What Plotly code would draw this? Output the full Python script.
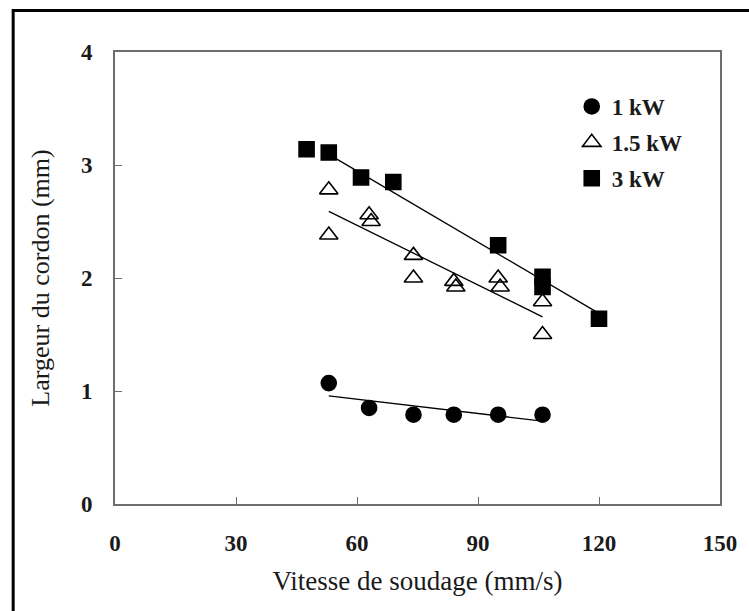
import numpy as np
import plotly.graph_objects as go

# Bead width versus welding speed for three laser powers
series_names = ["1 kW", "1.5 kW", "3 kW"]

speed_1kw = [53, 63, 74, 84, 95, 106]
width_1kw = [1.07, 0.85, 0.79, 0.79, 0.79, 0.79]

speed_15kw = [53, 53, 63, 63.5, 74, 74, 84, 84.5, 95, 95.5, 106, 106]
width_15kw = [2.78, 2.38, 2.56, 2.50, 2.20, 2.00, 1.97, 1.92, 2.00, 1.92, 1.79, 1.50]

speed_3kw = [47.5, 53, 61, 69, 95, 106, 106, 120]
width_3kw = [3.14, 3.11, 2.89, 2.85, 2.29, 2.01, 1.92, 1.64]

# speed span covered by each fitted line
fit_span = [(53, 106), (53, 106), (53, 120)]

x_ticks = [0, 30, 60, 90, 120, 150]
y_ticks = [0, 1, 2, 3, 4]

speeds = [speed_1kw, speed_15kw, speed_3kw]
widths = [width_1kw, width_15kw, width_3kw]
symbols = ["circle", "triangle-up-open", "square"]
sizes = [15, 16, 15]

SERIF = "Liberation Serif, Times New Roman, serif"
AXIS_GREY = "#6e6e6e"

fig = go.Figure()

for i, name in enumerate(series_names):
    xs = np.asarray(speeds[i], dtype=float)
    ys = np.asarray(widths[i], dtype=float)
    fig.add_trace(go.Scatter(
        x=xs, y=ys, mode="markers", name=name,
        legendgroup=name,
        marker=dict(symbol=symbols[i], size=sizes[i], color="black",
                    line=dict(color="black", width=1.6)),
    ))
    # least-squares trend line
    slope, intercept = np.polyfit(xs, ys, 1)
    lx = np.array(fit_span[i], dtype=float)
    fig.add_trace(go.Scatter(
        x=lx, y=slope * lx + intercept, mode="lines",
        line=dict(color="black", width=1.3),
        showlegend=False, hoverinfo="skip",
    ))

W, H = 749, 611
L, R, T, B = 114.5, 28.5, 52, 107
pw, ph = W - L - R, H - T - B


def px_to_paper(px, py):
    return (px - L) / pw, (H - B - py) / ph


# outer frame around the figure (runs past the right and bottom edges)
x0, y1 = px_to_paper(12.5, 10.5)
x1, y0 = px_to_paper(W + 20, H + 20)
fig.add_shape(type="rect", xref="paper", yref="paper",
              x0=x0, x1=x1, y0=y0, y1=y1,
              line=dict(color="black", width=3), layer="above")

lx0, ly0 = px_to_paper(572, 85)

fig.update_layout(
    width=W, height=H,
    margin=dict(l=L, r=R, t=T, b=B, pad=0),
    paper_bgcolor="white", plot_bgcolor="white",
    font=dict(family=SERIF, color="#1a1a1a"),
    showlegend=True,
    legend=dict(
        x=lx0, y=ly0, xanchor="left", yanchor="top",
        font=dict(family=SERIF, size=23, color="#1a1a1a", weight="bold"),
        bgcolor="rgba(0,0,0,0)", borderwidth=0,
        traceorder="grouped", tracegroupgap=3,
        itemwidth=30,
    ),
    xaxis=dict(
        range=[0, 150], tickvals=x_ticks, ticktext=[str(v) for v in x_ticks],
        showgrid=False, zeroline=False,
        showline=True, linecolor=AXIS_GREY, linewidth=2, mirror=True,
        ticks="inside", ticklen=7, tickcolor=AXIS_GREY, tickwidth=1,
        tickfont=dict(family=SERIF, size=23, color="#1a1a1a", weight="bold"),
        ticklabelstandoff=17,
        title=dict(text="Vitesse de soudage (mm/s)",
                   font=dict(family=SERIF, size=27, color="#1a1a1a"),
                   standoff=17),
    ),
    yaxis=dict(
        range=[0, 4], tickvals=y_ticks, ticktext=[str(v) for v in y_ticks],
        showgrid=False, zeroline=False,
        showline=True, linecolor=AXIS_GREY, linewidth=2, mirror=True,
        ticks="inside", ticklen=7, tickcolor=AXIS_GREY, tickwidth=1,
        tickfont=dict(family=SERIF, size=23, color="#1a1a1a", weight="bold"),
        ticklabelstandoff=16,
        title=dict(text="Largeur du cordon (mm)",
                   font=dict(family=SERIF, size=26, color="#1a1a1a"),
                   standoff=24),
    ),
)

fig.write_html("out.html")
